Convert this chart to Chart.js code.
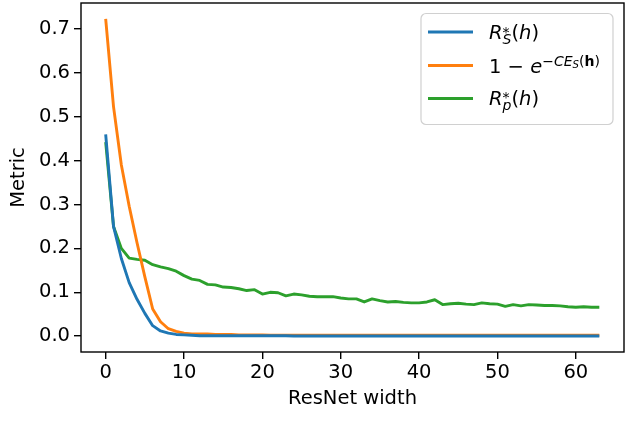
<!DOCTYPE html>
<html>
<head>
<meta charset="utf-8">
<script src="https://cdn.jsdelivr.net/npm/chart.js@4.4.0/dist/chart.umd.min.js"></script>
<style>
body { margin: 0; background: #fff; }
</style>
</head>
<body>
<canvas id="grafico" width="640" height="439"></canvas>
<script>
// dados
const larguras = [0, 1, 2, 3, 4, 5, 6, 7, 8, 9, 10, 11, 12, 13, 14, 15,
    16, 17, 18, 19, 20, 21, 22, 23, 24, 25, 26, 27, 28, 29, 30, 31,
    32, 33, 34, 35, 36, 37, 38, 39, 40, 41, 42, 43, 44, 45, 46, 47,
    48, 49, 50, 51, 52, 53, 54, 55, 56, 57, 58, 59, 60, 61, 62, 63];

const riscoS = [0.460, 0.250, 0.177, 0.122, 0.084, 0.052, 0.024, 0.012,
    0.007, 0.004, 0.003, 0.002, 0.001, 0.001, 0.001, 0.001,
    0.001, 0.001, 0.001, 0.001, 0.001, 0.001, 0.001, 0.001,
    0.0005, 0.0005, 0.0005, 0.0005, 0.0005, 0.0005, 0.0005, 0.0005,
    0.0005, 0.0005, 0.0005, 0.0005, 0.0005, 0.0005, 0.0005, 0.0005,
    0.0005, 0.0005, 0.0005, 0.0005, 0.0005, 0.0005, 0.0005, 0.0005,
    0.0005, 0.0005, 0.0005, 0.0005, 0.0005, 0.0005, 0.0005, 0.0005,
    0.0005, 0.0005, 0.0005, 0.0005, 0.0005, 0.0005, 0.0005, 0.0005];

const ceS = [0.723, 0.523, 0.390, 0.296, 0.213, 0.135, 0.062, 0.033,
    0.017, 0.011, 0.007, 0.005, 0.005, 0.005, 0.004, 0.004,
    0.004, 0.003, 0.003, 0.003, 0.003, 0.002, 0.002, 0.002,
    0.002, 0.002, 0.002, 0.002, 0.002, 0.002, 0.002, 0.002,
    0.002, 0.002, 0.002, 0.002, 0.002, 0.002, 0.002, 0.002,
    0.002, 0.002, 0.002, 0.002, 0.002, 0.002, 0.002, 0.002,
    0.002, 0.002, 0.002, 0.002, 0.002, 0.002, 0.002, 0.002,
    0.002, 0.002, 0.002, 0.002, 0.002, 0.002, 0.002, 0.002];

const riscoP = [0.442, 0.250, 0.200, 0.178, 0.175, 0.173, 0.163, 0.158,
    0.154, 0.148, 0.138, 0.130, 0.127, 0.118, 0.117, 0.112,
    0.111, 0.108, 0.104, 0.106, 0.096, 0.100, 0.099, 0.092,
    0.096, 0.094, 0.091, 0.090, 0.090, 0.090, 0.087, 0.085,
    0.085, 0.078, 0.085, 0.081, 0.078, 0.079, 0.077, 0.076,
    0.076, 0.078, 0.083, 0.072, 0.074, 0.075, 0.073, 0.072,
    0.076, 0.074, 0.073, 0.068, 0.072, 0.069, 0.072, 0.071,
    0.070, 0.070, 0.069, 0.067, 0.066, 0.067, 0.066, 0.066];

const nomesSeries = ['R_S*(h)', '1 - e^(-CE_S(h))', 'R_p*(h)'];
const ticksX = [0, 10, 20, 30, 40, 50, 60];
const ticksY = [0.0, 0.1, 0.2, 0.3, 0.4, 0.5, 0.6, 0.7];

const FONTE = 'DejaVu Sans';
const TAM = 19.5;
const ESPESSURA = 2.9;
Chart.defaults.font.family = FONTE;
Chart.defaults.font.size = TAM;
Chart.defaults.color = '#000';

function pontos(valores) {
    return larguras.map(function (x, i) { return { x: x, y: valores[i] }; });
}

// texto do legenda com indices (estilo mathtext)
const legendaMath = [
    [{ t: 'R', e: 'italic' }, { t: 'S', e: 'italic', n: 'sub' }, { t: '*', n: 'sup', junto: true },
     { t: '(' }, { t: 'h', e: 'italic' }, { t: ')' }],
    [{ t: '1 \u2212 ' }, { t: 'e', e: 'italic' }, { t: '\u2212', n: 'sup' }, { t: 'CE', e: 'italic', n: 'sup' },
     { t: 'S', e: 'italic', n: 'supsub' }, { t: '(', n: 'sup' }, { t: 'h', e: 'bold', n: 'sup' }, { t: ')', n: 'sup' }],
    [{ t: 'R', e: 'italic' }, { t: 'p', e: 'italic', n: 'sub' }, { t: '*', n: 'sup', junto: true },
     { t: '(' }, { t: 'h', e: 'italic' }, { t: ')' }]
];

const niveis = {
    base: { esc: 1, dy: 0 },
    sub: { esc: 0.72, dy: -0.26 },
    sup: { esc: 0.72, dy: 0.38 },
    supsub: { esc: 0.52, dy: 0.26 }
};

function escreverMath(ctx, partes, x, y) {
    let cx = x;
    let inicio = x;
    partes.forEach(function (p) {
        const nv = niveis[p.n || 'base'];
        let dy = nv.dy;
        if (p.n === 'sup' && p.junto) dy = 0.12;
        ctx.font = (p.e || 'normal') + ' ' + (TAM * nv.esc) + 'px "' + FONTE + '"';
        const px = p.junto ? inicio : cx;
        ctx.fillText(p.t, px, y - dy * TAM);
        const w = ctx.measureText(p.t).width;
        if (p.junto) {
            cx = Math.max(cx, px + w);
        } else {
            inicio = px;
            cx = px + w;
        }
    });
}

const pluginMoldura = {
    id: 'moldura',
    afterDatasetsDraw: function (chart) {
        const ctx = chart.ctx;
        const a = chart.chartArea;
        ctx.save();
        ctx.strokeStyle = '#000';
        ctx.lineWidth = 1.4;
        ctx.strokeRect(a.left, a.top, a.right - a.left, a.bottom - a.top);

        // caixa da legenda
        ctx.beginPath();
        ctx.roundRect(421, 13.5, 192, 111, 5);
        ctx.fillStyle = 'rgba(255,255,255,0.8)';
        ctx.fill();
        ctx.strokeStyle = '#d0d0d0';
        ctx.lineWidth = 1.2;
        ctx.stroke();

        const linhasY = [32, 65.5, 98.5];
        const basesY = [39, 73, 104.5];
        chart.data.datasets.forEach(function (ds, i) {
            ctx.beginPath();
            ctx.moveTo(428, linhasY[i]);
            ctx.lineTo(473, linhasY[i]);
            ctx.strokeStyle = ds.borderColor;
            ctx.lineWidth = ESPESSURA;
            ctx.stroke();
            ctx.fillStyle = '#000';
            ctx.textBaseline = 'alphabetic';
            ctx.textAlign = 'left';
            escreverMath(ctx, legendaMath[i], 489, basesY[i]);
        });
        ctx.restore();
    }
};

const ctx1 = document.getElementById('grafico');

new Chart(ctx1, {
    type: 'line',
    data: {
        datasets: [
            { label: nomesSeries[0], data: pontos(riscoS), borderColor: '#1f77b4' },
            { label: nomesSeries[1], data: pontos(ceS), borderColor: '#ff7f0e' },
            { label: nomesSeries[2], data: pontos(riscoP), borderColor: '#2ca02c' }
        ]
    },
    options: {
        responsive: false,
        animation: false,
        devicePixelRatio: 1,
        elements: {
            point: { radius: 0 },
            line: { borderWidth: ESPESSURA, tension: 0, borderJoinStyle: 'round', borderCapStyle: 'butt' }
        },
        layout: { padding: { top: 3, right: 16, left: 0, bottom: 0 } },
        plugins: {
            legend: { display: false },
            tooltip: { enabled: false }
        },
        scales: {
            x: {
                type: 'linear',
                min: -3.15,
                max: 66.15,
                afterFit: function (scale) {
                    scale.height = 87;
                    scale.paddingLeft = 0;
                    scale.paddingRight = 0;
                },
                afterBuildTicks: function (scale) {
                    scale.ticks = ticksX.map(function (v) { return { value: v }; });
                },
                ticks: {
                    padding: 2,
                    maxRotation: 0,
                    callback: function (v) { return v; }
                },
                grid: {
                    drawOnChartArea: false,
                    drawTicks: true,
                    tickLength: 7,
                    tickColor: '#000',
                    lineWidth: 1.4
                },
                border: { display: false },
                title: {
                    display: true,
                    text: 'ResNet width',
                    padding: { top: 0, bottom: 28 }
                }
            },
            y: {
                min: -0.036,
                max: 0.759,
                afterFit: function (scale) {
                    scale.width = 81;
                    scale.paddingTop = 0;
                    scale.paddingBottom = 0;
                },
                afterBuildTicks: function (scale) {
                    scale.ticks = ticksY.map(function (v) { return { value: v }; });
                },
                ticks: {
                    padding: 4,
                    callback: function (v) { return v.toFixed(1); }
                },
                grid: {
                    drawOnChartArea: false,
                    drawTicks: true,
                    tickLength: 7,
                    tickColor: '#000',
                    lineWidth: 1.4
                },
                border: { display: false },
                title: {
                    display: true,
                    text: 'Metric',
                    padding: { top: 7, bottom: 0 }
                }
            }
        }
    },
    plugins: [pluginMoldura]
});
</script>
</body>
</html>
